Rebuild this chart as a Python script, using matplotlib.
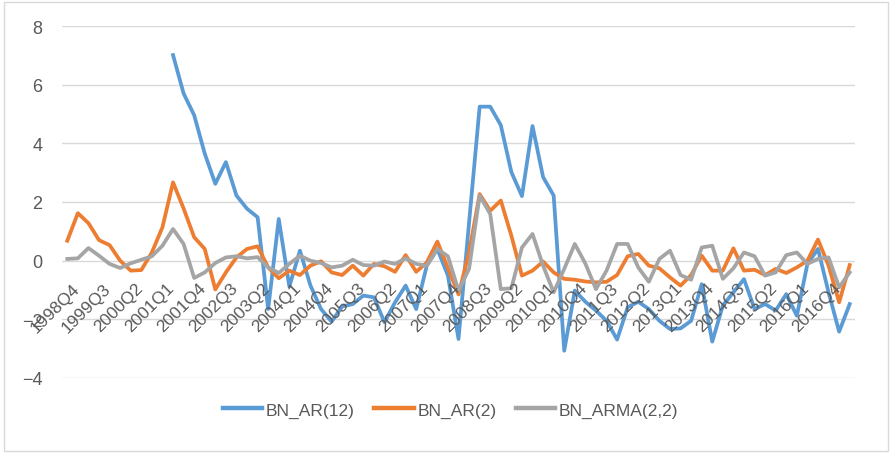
import matplotlib
matplotlib.use("Agg")
import matplotlib.pyplot as plt
from matplotlib.patches import Rectangle

# categorias: trimestres 1998Q4 .. 2017Q2
trimestres = [f"{1998 + (3 + k) // 4}Q{(3 + k) % 4 + 1}" for k in range(75)]

# BN_AR(12) empieza en 2001Q2
bn_ar12 = [None] * 10 + [
    7.01, 5.70, 4.96, 3.65, 2.62, 3.36, 2.22, 1.77, 1.48, -1.65,
    1.42, -0.88, 0.34, -0.85, -1.65, -2.08, -1.56, -1.48, -1.19, -1.25,
    -2.10, -1.42, -0.85, -1.65, -0.17, 0.40, -0.51, -2.67, 1.30, 5.25,
    5.25, 4.62, 3.02, 2.20, 4.59, 2.85, 2.22, -3.07, -1.02, -1.40,
    -1.70, -2.05, -2.69, -1.59, -1.40, -1.65, -2.05, -2.33, -2.31, -2.05,
    -0.80, -2.76, -1.53, -1.08, -0.63, -1.65, -1.48, -1.70, -1.14, -1.88,
    -0.11, 0.40, -1.08, -2.42, -1.48,
]

bn_ar2 = [
    0.68, 1.62, 1.28, 0.70, 0.53, 0.00, -0.34, -0.32, 0.28, 1.14,
    2.67, 1.78, 0.80, 0.40, -0.98, -0.40, 0.11, 0.40, 0.49, -0.23,
    -0.60, -0.34, -0.49, -0.17, -0.02, -0.40, -0.49, -0.17, -0.51, -0.11,
    -0.19, -0.38, 0.19, -0.38, -0.06, 0.65, -0.25, -1.15, 0.28, 2.27,
    1.70, 2.05, 0.85, -0.51, -0.34, -0.03, -0.40, -0.62, -0.65, -0.71,
    -0.74, -0.72, -0.49, 0.15, 0.23, -0.17, -0.26, -0.57, -0.85, -0.49,
    0.17, -0.34, -0.34, 0.42, -0.34, -0.31, -0.49, -0.28, -0.42, -0.23,
    0.00, 0.72, -0.17, -1.42, -0.15,
]

bn_arma22 = [
    0.06, 0.08, 0.43, 0.17, -0.11, -0.25, -0.09, 0.03, 0.15, 0.51,
    1.08, 0.57, -0.59, -0.40, -0.08, 0.11, 0.15, 0.08, 0.12, -0.23,
    -0.42, -0.11, 0.17, 0.00, -0.08, -0.23, -0.17, 0.03, -0.15, -0.17,
    -0.03, -0.11, 0.08, -0.11, -0.17, 0.40, 0.15, -1.02, -0.28, 2.22,
    1.59, -0.97, -0.94, 0.45, 0.91, -0.17, -1.08, -0.28, 0.57, -0.10,
    -0.97, -0.34, 0.57, 0.57, -0.23, -0.72, 0.06, 0.34, -0.49, -0.65,
    0.45, 0.51, -0.62, -0.26, 0.28, 0.15, -0.51, -0.40, 0.19, 0.28,
    -0.11, 0.06, 0.11, -0.91, -0.40,
]

plt.rcParams['font.family'] = ['Liberation Sans', 'DejaVu Sans']

fig = plt.figure(figsize=(8.92, 4.56), dpi=100)
ax = fig.add_axes([62 / 892, 1 - 379 / 456, (855 - 62) / 892, (379 - 27) / 456])

x = list(range(len(trimestres)))
ar12 = [float('nan') if v is None else v for v in bn_ar12]

ax.plot(x, ar12, color='#5B9BD5', lw=2.7, label='BN_AR(12)', solid_joinstyle='round')
ax.plot(x, bn_ar2, color='#ED7D31', lw=2.7, label='BN_AR(2)', solid_joinstyle='round')
ax.plot(x, bn_arma22, color='#A5A5A5', lw=2.7, label='BN_ARMA(2,2)', solid_joinstyle='round')

ax.set_xlim(-0.5, len(trimestres) - 0.5)
ax.set_ylim(-4, 8)
ax.set_yticks(range(-4, 9, 2))
ax.yaxis.grid(True, color='#D9D9D9', lw=1)
ax.set_axisbelow(True)
for s in ax.spines.values():
    s.set_visible(False)
ax.tick_params(axis='y', length=0, pad=14, labelsize=13, labelcolor='#595959')
ax.set_xticks([])

# etiquetas del eje de categorias, en la linea del cero
for i in range(0, len(trimestres), 3):
    ax.annotate(trimestres[i], xy=(i, 0), xycoords='data', xytext=(3, -14),
                textcoords='offset points', rotation=45, rotation_mode='anchor',
                ha='right', va='top', fontsize=12.5, color='#595959')

leg = fig.legend(loc='center', bbox_to_anchor=(0.505, 1 - 411 / 456), ncol=3, frameon=False,
                 fontsize=12.5, handlelength=2.3, columnspacing=1.1, handletextpad=0.2,
                 labelcolor='#595959')
for h in leg.get_lines():
    h.set_linewidth(3.2)

fig.patches.append(Rectangle((4 / 892, 1 - 452 / 456), 884 / 892, 449 / 456,
                             transform=fig.transFigure, fill=False,
                             edgecolor='#D9D9D9', lw=1))

fig.savefig('out.png', dpi=100)
